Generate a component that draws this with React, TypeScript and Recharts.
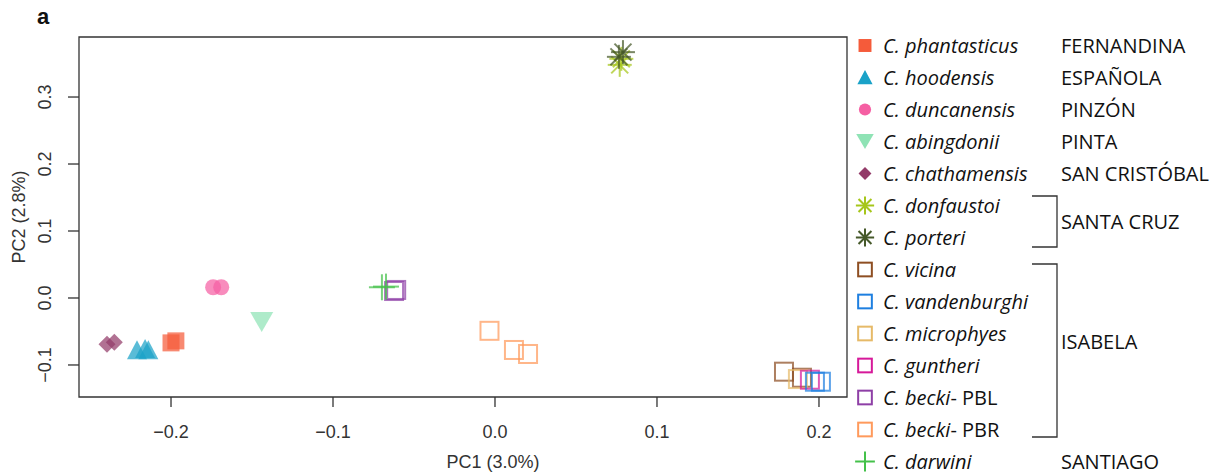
import React from 'react';
import { ScatterChart, Scatter, XAxis, YAxis, ReferenceArea } from 'recharts';

// axes
const xTicks = [-0.2, -0.1, 0, 0.1, 0.2];
const yTicks = [-0.1, 0, 0.1, 0.2, 0.3];
const xDomain = [-0.2568, 0.2173];
const yDomain = [-0.1478, 0.3896];

// PCA scores
const phantasticus = [{ x: -0.2, y: -0.067 }, { x: -0.197, y: -0.064 }];
const hoodensis = [{ x: -0.221, y: -0.078 }, { x: -0.216, y: -0.076 }, { x: -0.214, y: -0.078 }];
const duncanensis = [{ x: -0.174, y: 0.016 }, { x: -0.169, y: 0.016 }];
const abingdonii = [{ x: -0.144, y: -0.036 }];
const chathamensis = [{ x: -0.2395, y: -0.069 }, { x: -0.235, y: -0.066 }];
const donfaustoi = [{ x: 0.077, y: 0.348 }, { x: 0.078, y: 0.357 }];
const porteri = [{ x: 0.0765, y: 0.36 }, { x: 0.079, y: 0.367 }];
const vicina = [{ x: 0.1784, y: -0.11 }, { x: 0.1895, y: -0.119 }];
const microphyes = [{ x: 0.187, y: -0.121 }];
const guntheri = [{ x: 0.1944, y: -0.122 }];
const beckiPBL = [{ x: -0.0623, y: 0.0104 }, { x: -0.061, y: 0.012 }];
const beckiPBR = [{ x: -0.0034, y: -0.049 }, { x: 0.0117, y: -0.0776 }, { x: 0.0204, y: -0.0836 }];
const vandenburghi = [{ x: 0.1975, y: -0.125 }, { x: 0.2012, y: -0.125 }];
const darwini = [{ x: -0.0698, y: 0.016 }, { x: -0.0673, y: 0.017 }];

type Kind = 'square' | 'triangle' | 'circle' | 'triangleDown' | 'diamond' | 'asterisk' | 'openSquare' | 'plus';

interface Species {
    name: string;
    suffix?: string;
    data: { x: number; y: number }[];
    kind: Kind;
    color: string;
}

const species: Species[] = [
    { name: 'C. phantasticus', data: phantasticus, kind: 'square', color: '#F55B3A' },
    { name: 'C. hoodensis', data: hoodensis, kind: 'triangle', color: '#1AA2C8' },
    { name: 'C. duncanensis', data: duncanensis, kind: 'circle', color: '#F55FA3' },
    { name: 'C. abingdonii', data: abingdonii, kind: 'triangleDown', color: '#8FE3B5' },
    { name: 'C. chathamensis', data: chathamensis, kind: 'diamond', color: '#933B69' },
    { name: 'C. donfaustoi', data: donfaustoi, kind: 'asterisk', color: '#A6C61B' },
    { name: 'C. porteri', data: porteri, kind: 'asterisk', color: '#46592A' },
    { name: 'C. vicina', data: vicina, kind: 'openSquare', color: '#8E4E22' },
    { name: 'C. vandenburghi', data: vandenburghi, kind: 'openSquare', color: '#1E7FE0' },
    { name: 'C. microphyes', data: microphyes, kind: 'openSquare', color: '#E6BA68' },
    { name: 'C. guntheri', data: guntheri, kind: 'openSquare', color: '#D6199A' },
    { name: 'C. becki', suffix: '- PBL', data: beckiPBL, kind: 'openSquare', color: '#8E3FA6' },
    { name: 'C. becki', suffix: '- PBR', data: beckiPBR, kind: 'openSquare', color: '#FF9A5C' },
    { name: 'C. darwini', data: darwini, kind: 'plus', color: '#44C14A' },
];

// draw order in the plot
const drawOrder = [0, 1, 2, 3, 4, 5, 6, 12, 11, 13, 7, 9, 10, 8];

function marker(kind: Kind, cx: number, cy: number, color: string, s: number, opacity: number) {
    switch (kind) {
        case 'square':
            return <rect x={cx - 8.5 * s} y={cy - 8.5 * s} width={17 * s} height={17 * s} fill={color} fillOpacity={opacity} />;
        case 'triangle':
            return (
                <polygon
                    points={`${cx},${cy - 10 * s} ${cx - 10 * s},${cy + 9 * s} ${cx + 10 * s},${cy + 9 * s}`}
                    fill={color}
                    fillOpacity={opacity}
                />
            );
        case 'circle':
            return <circle cx={cx} cy={cy} r={8 * s} fill={color} fillOpacity={opacity} />;
        case 'triangleDown':
            return (
                <polygon
                    points={`${cx - 11.5 * s},${cy - 10 * s} ${cx + 11.5 * s},${cy - 10 * s} ${cx},${cy + 10 * s}`}
                    fill={color}
                    fillOpacity={opacity}
                />
            );
        case 'diamond':
            return (
                <polygon
                    points={`${cx},${cy - 8.5 * s} ${cx + 8.5 * s},${cy} ${cx},${cy + 8.5 * s} ${cx - 8.5 * s},${cy}`}
                    fill={color}
                    fillOpacity={opacity}
                />
            );
        case 'asterisk': {
            const r = 12 * s;
            const d = r * 0.7071;
            return (
                <g stroke={color} strokeOpacity={opacity} strokeWidth={2}>
                    <line x1={cx - r} y1={cy} x2={cx + r} y2={cy} />
                    <line x1={cx} y1={cy - r} x2={cx} y2={cy + r} />
                    <line x1={cx - d} y1={cy - d} x2={cx + d} y2={cy + d} />
                    <line x1={cx - d} y1={cy + d} x2={cx + d} y2={cy - d} />
                </g>
            );
        }
        case 'openSquare':
            return (
                <rect
                    x={cx - 9 * s}
                    y={cy - 9 * s}
                    width={18 * s}
                    height={18 * s}
                    fill="none"
                    stroke={color}
                    strokeOpacity={opacity}
                    strokeWidth={2}
                />
            );
        case 'plus':
            return (
                <g stroke={color} strokeOpacity={opacity} strokeWidth={2}>
                    <line x1={cx - 13 * s} y1={cy} x2={cx + 13 * s} y2={cy} />
                    <line x1={cx} y1={cy - 13 * s} x2={cx} y2={cy + 13 * s} />
                </g>
            );
    }
}

const tickFont = { fontFamily: '"Liberation Sans", Arial, sans-serif', fontSize: 18, fill: '#333' };
const legendFont = { fontFamily: '"Open Sans", sans-serif', fontSize: 20, fill: '#111' };

const XTick = ({ x, payload }: any) => (
    <text x={x} y={438} textAnchor="middle" {...tickFont}>
        {payload.value.toFixed(1).replace('-', '\u2212')}
    </text>
);

const YTick = ({ y, payload }: any) => (
    <text x={51} y={y} textAnchor="middle" transform={`rotate(-90 51 ${y})`} {...tickFont}>
        {payload.value.toFixed(1).replace('-', '\u2212')}
    </text>
);

const rowY = (i: number) => 45.5 + i * 32;

export default function App() {
    return (
        <div style={{ position: 'absolute', left: 0, top: 0, width: 1218, height: 474, background: '#fff' }}>
            <ScatterChart width={1218} height={474} margin={{ top: 37, right: 371, bottom: 0, left: 0 }}>
                <XAxis
                    type="number"
                    dataKey="x"
                    domain={xDomain}
                    ticks={xTicks}
                    allowDataOverflow
                    height={77}
                    axisLine={false}
                    tickSize={10}
                    tickLine={{ stroke: '#333', strokeWidth: 1.3 }}
                    tick={<XTick />}
                    interval={0}
                />
                <YAxis
                    type="number"
                    dataKey="y"
                    domain={yDomain}
                    ticks={yTicks}
                    allowDataOverflow
                    width={79}
                    axisLine={false}
                    tickSize={11}
                    tickLine={{ stroke: '#333', strokeWidth: 1.3 }}
                    tick={<YTick />}
                    interval={0}
                />
                <ReferenceArea
                    x1={xDomain[0]}
                    x2={xDomain[1]}
                    y1={yDomain[0]}
                    y2={yDomain[1]}
                    fill="none"
                    stroke="#333"
                    strokeWidth={1.3}
                />
                {drawOrder.map((i) => {
                    const sp = species[i];
                    return (
                        <Scatter
                            key={i}
                            name={sp.name + (sp.suffix || '')}
                            data={sp.data}
                            isAnimationActive={false}
                            shape={(p: any) => marker(sp.kind, p.cx, p.cy, sp.color, 1, 0.72)}
                        />
                    );
                })}
            </ScatterChart>
            <svg width={1218} height={474} style={{ position: 'absolute', left: 0, top: 0, pointerEvents: 'none' }}>
                <text x={37} y={24} fontFamily='"Liberation Sans", Arial, sans-serif' fontSize={22} fontWeight="bold" fill="#111">
                    a
                </text>
                <text x={493} y={468} textAnchor="middle" {...tickFont}>
                    PC1 (3.0%)
                </text>
                <text x={25} y={217} textAnchor="middle" transform="rotate(-90 25 217)" {...tickFont}>
                    PC2 (2.8%)
                </text>
                {species.map((sp, i) => (
                    <g key={i}>
                        {marker(sp.kind, 865, rowY(i), sp.color, 0.76, 1)}
                        <text x={883} y={rowY(i) + 7} {...legendFont}>
                            <tspan fontStyle="italic">{sp.name}</tspan>
                            {sp.suffix ? <tspan>{sp.suffix}</tspan> : null}
                        </text>
                    </g>
                ))}
                {[
                    ['FERNANDINA', 0],
                    ['ESPAÑOLA', 1],
                    ['PINZÓN', 2],
                    ['PINTA', 3],
                    ['SAN CRISTÓBAL', 4],
                    ['SANTA CRUZ', 5.5],
                    ['ISABELA', 9.25],
                    ['SANTIAGO', 13],
                ].map(([label, r]) => (
                    <text key={label as string} x={1061} y={rowY(r as number) + 7} {...legendFont}>
                        {label}
                    </text>
                ))}
                <polyline points="1032,196 1057,196 1057,247 1032,247" fill="none" stroke="#333" strokeWidth={1.3} />
                <polyline points="1032,264 1057,264 1057,437 1032,437" fill="none" stroke="#333" strokeWidth={1.3} />
            </svg>
        </div>
    );
}
